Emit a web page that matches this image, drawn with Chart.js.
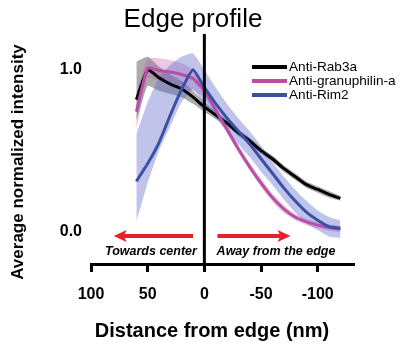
<!DOCTYPE html>
<html>
<head>
<meta charset="utf-8">
<script src="https://cdn.jsdelivr.net/npm/chart.js@4"></script>
<style>
html,body{margin:0;padding:0;background:#fff;}
#wrap{width:402px;height:346px;}
</style>
</head>
<body>
<div id="wrap"><canvas id="c" width="402" height="346"></canvas></div>
<script>
const distances = [60,50,40,30,20,10,0,-10,-20,-30,-40,-50,-60,-70,-80,-90,-100,-110,-120];
const rab3aMean  = [0.815,1.00,0.95,0.91,0.88,0.83,0.77,0.72,0.67,0.61,0.56,0.50,0.45,0.39,0.34,0.29,0.26,0.23,0.205];
const rab3aUpper = [1.05,1.08,1.02,0.97,0.93,0.87,0.80,0.745,0.69,0.63,0.58,0.52,0.47,0.41,0.36,0.31,0.28,0.25,0.22];
const rab3aLower = [0.68,0.90,0.87,0.85,0.83,0.79,0.74,0.695,0.65,0.59,0.54,0.48,0.43,0.37,0.32,0.27,0.24,0.21,0.19];
const granMean  = [0.74,1.01,0.995,0.985,0.97,0.945,0.87,0.75,0.63,0.51,0.40,0.30,0.21,0.14,0.09,0.06,0.04,0.025,0.015];
const granUpper = [0.86,1.07,1.07,1.06,1.04,1.00,0.91,0.775,0.655,0.535,0.425,0.325,0.235,0.165,0.11,0.08,0.06,0.045,0.035];
const granLower = [0.62,0.95,0.93,0.92,0.90,0.87,0.83,0.725,0.605,0.485,0.375,0.275,0.185,0.115,0.07,0.04,0.02,0.005,-0.005];
const rim2Mean  = [0.31,0.42,0.55,0.72,0.88,1.00,0.89,0.79,0.70,0.62,0.54,0.45,0.36,0.27,0.19,0.12,0.07,0.03,0.02];
const rim2Upper = [0.60,0.80,0.95,1.03,1.08,1.10,1.00,0.89,0.79,0.70,0.62,0.53,0.43,0.34,0.26,0.19,0.13,0.09,0.07];
const rim2Lower = [0.06,0.30,0.50,0.65,0.80,0.88,0.78,0.70,0.62,0.54,0.46,0.37,0.29,0.20,0.12,0.05,0.01,-0.03,-0.04];
const seriesNames = ['Anti-Rab3a','Anti-granuphilin-a','Anti-Rim2'];
const xTickValues = [100,50,0,-50,-100];
const yTickValues = [0,1];
const arrowLeft = [10,80];      // from, tip (x values)
const arrowRight = [-11.5,-76]; // from, tip
const arrowY = -0.027;
const annotationTexts = ['Towards center','Away from the edge'];
const annotationX = [47.1,-63.2];
const annotationY = -0.126;

const FONT = '"Liberation Sans", Arial, Helvetica, sans-serif';
const lineColors = ['#000000','#b84fa6','#3a50a5'];
const bandColors = ['rgba(0,0,0,0.33)','rgba(185,80,170,0.30)','rgba(90,100,200,0.38)'];

function pts(ys){ return distances.map((x,i)=>({x:x,y:ys[i]})); }

const bands = [[rab3aUpper,rab3aLower],[granUpper,granLower],[rim2Upper,rim2Lower]];
const means = [rab3aMean,granMean,rim2Mean];

const datasets = [];
// lines (drawn on top)
[2,1,0].forEach(k=>{
  datasets.push({label:seriesNames[k],data:pts(means[k]),borderColor:lineColors[k],borderWidth:3,
    pointRadius:0,fill:false,tension:0.15,order:0});
});
// bands
[2,1,0].forEach(k=>{
  datasets.push({label:seriesNames[k]+' upper',data:pts(bands[k][0]),borderColor:'rgba(0,0,0,0)',borderWidth:0,
    pointRadius:0,fill:false,tension:0.15,order:1});
  datasets.push({label:seriesNames[k]+' lower',data:pts(bands[k][1]),borderColor:'rgba(0,0,0,0)',borderWidth:0,
    pointRadius:0,fill:'-1',backgroundColor:bandColors[k],tension:0.15,order:1});
});

const decor = {
  id:'decor',
  afterDatasetsDraw(chart){
    const ctx = chart.ctx, xs = chart.scales.x, ys = chart.scales.y, ca = chart.chartArea;
    ctx.save();
    // vertical line at 0
    const x0 = xs.getPixelForValue(0);
    ctx.strokeStyle='#000'; ctx.lineWidth=3;
    ctx.beginPath(); ctx.moveTo(x0,ca.top); ctx.lineTo(x0,ca.bottom); ctx.stroke();
    // arrows
    function arrow(xa,xb){
      const p1 = xs.getPixelForValue(xa), p2 = xs.getPixelForValue(xb), py = ys.getPixelForValue(arrowY);
      const dir = p2>p1?1:-1;
      ctx.strokeStyle='#e8202a'; ctx.fillStyle='#e8202a'; ctx.lineWidth=4;
      ctx.beginPath(); ctx.moveTo(p1,py); ctx.lineTo(p2-dir*10,py); ctx.stroke();
      ctx.beginPath(); ctx.moveTo(p2,py); ctx.lineTo(p2-dir*13,py-6); ctx.lineTo(p2-dir*10,py); ctx.lineTo(p2-dir*13,py+6); ctx.closePath(); ctx.fill();
    }
    arrow(arrowLeft[0],arrowLeft[1]);
    arrow(arrowRight[0],arrowRight[1]);
    ctx.fillStyle='#000'; ctx.font='italic bold 12.5px '+FONT; ctx.textAlign='center'; ctx.textBaseline='middle';
    annotationTexts.forEach((t,i)=>ctx.fillText(t,xs.getPixelForValue(annotationX[i]),ys.getPixelForValue(annotationY)));
    // legend
    const rows=[67,81,95];
    ctx.font='13.6px '+FONT; ctx.textAlign='left';
    seriesNames.forEach((n,i)=>{
      ctx.strokeStyle=lineColors[i]; ctx.lineWidth=4;
      ctx.beginPath(); ctx.moveTo(252,rows[i]); ctx.lineTo(287,rows[i]); ctx.stroke();
      ctx.fillStyle='#000'; ctx.fillText(n,289,rows[i]+0.5);
    });
    // titles
    ctx.font='26px '+FONT; ctx.textAlign='center'; ctx.fillText('Edge profile',193,20);
    ctx.font='bold 20px '+FONT; ctx.fillText('Distance from edge (nm)',212,331);
    ctx.translate(18,162); ctx.rotate(-Math.PI/2);
    ctx.font='bold 17px '+FONT; ctx.fillText('Average normalized intensity',0,0);
    ctx.restore();
  }
};

new Chart(document.getElementById('c'),{
  type:'line',
  data:{datasets:datasets},
  options:{
    responsive:false,animation:false,
    layout:{padding:{top:34,right:48,left:0,bottom:0}},
    plugins:{legend:{display:false},tooltip:{enabled:false},title:{display:false}},
    scales:{
      x:{type:'linear',min:-132,max:100,reverse:true,
        afterBuildTicks(s){ s.ticks = xTickValues.map(v=>({value:v})); },
        afterFit(s){ s.height = 82; },
        grid:{display:true,drawOnChartArea:false,drawTicks:true,tickLength:8,tickWidth:3,color:'#000'},
        border:{display:true,width:3,color:'#000'},
        ticks:{color:'#000',font:{family:FONT,size:16,weight:'bold'},padding:13,maxRotation:0,autoSkip:false,
          callback:v=>String(v)}
      },
      y:{type:'linear',min:-0.2,max:1.22,
        afterBuildTicks(s){ s.ticks = yTickValues.map(v=>({value:v})); },
        afterFit(s){ s.width = 91; },
        grid:{display:false,drawTicks:false},
        border:{display:false},
        ticks:{color:'#000',font:{family:FONT,size:16,weight:'bold'},padding:9,callback:v=>Number(v).toFixed(1)}
      }
    }
  },
  plugins:[decor]
});
</script>
</body>
</html>
